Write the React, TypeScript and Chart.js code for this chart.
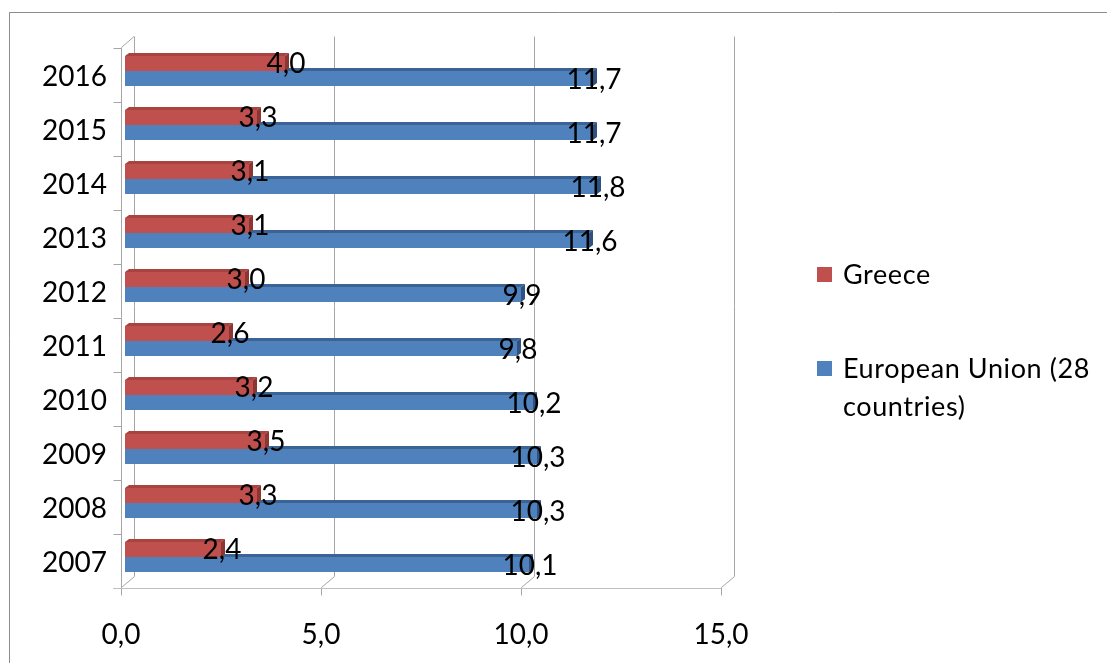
import React, { useEffect, useRef } from 'react';
import { Chart, registerables } from 'chart.js';

Chart.register(...registerables);

// ---- data ----
const categories = ['2007', '2008', '2009', '2010', '2011', '2012', '2013', '2014', '2015', '2016'];
const greeceValues = [2.4, 3.3, 3.5, 3.2, 2.6, 3.0, 3.1, 3.1, 3.3, 4.0];
const euValues = [10.1, 10.3, 10.3, 10.2, 9.8, 9.9, 11.6, 11.8, 11.7, 11.7];
const xTickValues = [0, 5, 10, 15];
const seriesNames = ['Greece', 'European Union (28 countries)'];

// ---- styles ----
const FRONT_COLORS = ['#C0504D', '#4F81BD'];
const TOP_COLORS = ['#A9433F', '#3B6393'];
const SIDE_COLORS = ['#8C3532', '#2F5282'];
const FONT_FAMILY = 'Lato, "Noto Sans", sans-serif';
const FRONT = { dx: -4, dy: 3.5 };
const BACK = { dx: 8.5, dy: -7.5 };
const BAR_DEPTH = { dx: 4, dy: 3 };

const fmt = (v: number) => v.toFixed(1).replace('.', ',');
const snap = (v: number) => Math.round(v) + 0.5;

const framePlugin = {
  id: 'frame3d',
  beforeDatasetsDraw(chart: any) {
    const { ctx, chartArea, scales } = chart;
    const { left, top, bottom } = chartArea;
    const x = scales.x;
    const y = scales.y;
    ctx.save();
    ctx.lineWidth = 1;

    // back wall gridlines + floor diagonals + ticks
    ctx.strokeStyle = '#A6A6A6';
    for (const v of xTickValues) {
      const px = x.getPixelForValue(v);
      ctx.beginPath();
      ctx.moveTo(snap(px + BACK.dx), top + BACK.dy);
      ctx.lineTo(snap(px + BACK.dx), bottom + BACK.dy);
      ctx.lineTo(snap(px + FRONT.dx), bottom + FRONT.dy);
      ctx.lineTo(snap(px + FRONT.dx), bottom + FRONT.dy + 8);
      ctx.stroke();
    }

    // floor front edge
    ctx.strokeStyle = '#BFBFBF';
    const fx0 = x.getPixelForValue(xTickValues[0]) + FRONT.dx;
    const fx1 = x.getPixelForValue(xTickValues[xTickValues.length - 1]) + FRONT.dx;
    ctx.beginPath();
    ctx.moveTo(fx0 - 8, snap(bottom + FRONT.dy));
    ctx.lineTo(fx1, snap(bottom + FRONT.dy));
    ctx.stroke();

    // left wall front edge, top diagonal
    ctx.strokeStyle = '#A6A6A6';
    const lx = snap(left + FRONT.dx);
    ctx.beginPath();
    ctx.moveTo(left + BACK.dx + 0.5, top + BACK.dy);
    ctx.lineTo(lx, top + FRONT.dy);
    ctx.lineTo(lx, bottom + FRONT.dy);
    ctx.stroke();

    // category boundary ticks
    const band = Math.abs(y.getPixelForValue(1) - y.getPixelForValue(0));
    const n = categories.length;
    for (let i = 0; i < n; i++) {
      const c = y.getPixelForValue(i);
      const yb = snap(c - band / 2 + FRONT.dy);
      ctx.beginPath();
      ctx.moveTo(lx - 8, yb);
      ctx.lineTo(lx, yb);
      ctx.stroke();
    }

    // bar top & side faces (blue first, then red)
    for (let d = chart.data.datasets.length - 1; d >= 0; d--) {
      const meta = chart.getDatasetMeta(d);
      meta.data.forEach((el: any) => {
        const p = el.getProps(['x', 'y', 'base', 'height'], true);
        const t = p.y - p.height / 2;
        const b = p.y + p.height / 2;
        ctx.fillStyle = TOP_COLORS[d];
        ctx.beginPath();
        ctx.moveTo(p.base, t);
        ctx.lineTo(p.x, t);
        ctx.lineTo(p.x + BAR_DEPTH.dx, t - BAR_DEPTH.dy);
        ctx.lineTo(p.base + BAR_DEPTH.dx, t - BAR_DEPTH.dy);
        ctx.closePath();
        ctx.fill();
        ctx.fillStyle = SIDE_COLORS[d];
        ctx.beginPath();
        ctx.moveTo(p.x, t);
        ctx.lineTo(p.x + BAR_DEPTH.dx, t - BAR_DEPTH.dy);
        ctx.lineTo(p.x + BAR_DEPTH.dx, b - BAR_DEPTH.dy);
        ctx.lineTo(p.x, b);
        ctx.closePath();
        ctx.fill();
      });
    }
    ctx.restore();
  },
  afterDatasetsDraw(chart: any) {
    const { ctx } = chart;
    ctx.save();
    ctx.font = `28px ${FONT_FAMILY}`;
    ctx.fillStyle = '#000000';
    ctx.textAlign = 'center';
    ctx.textBaseline = 'middle';
    chart.data.datasets.forEach((ds: any, d: number) => {
      const meta = chart.getDatasetMeta(d);
      meta.data.forEach((el: any, i: number) => {
        const p = el.getProps(['x', 'y'], true);
        ctx.fillText(fmt(ds.data[i]), p.x + 1, p.y + 1);
      });
    });
    ctx.restore();
  },
  afterDraw(chart: any) {
    const { ctx } = chart;
    ctx.save();
    // outer border
    ctx.strokeStyle = '#8C8C8C';
    ctx.lineWidth = 1;
    ctx.beginPath();
    ctx.moveTo(9.5, 700);
    ctx.lineTo(9.5, 12.5);
    ctx.lineTo(1107, 12.5);
    ctx.stroke();

    // legend
    ctx.font = `27px ${FONT_FAMILY}`;
    try {
      (ctx as any).letterSpacing = '0.6px';
    } catch (e) {}
    ctx.textAlign = 'left';
    ctx.textBaseline = 'middle';
    const sqX = 817;
    const txtX = 843;
    const maxW = 1107 - txtX - 2;
    const startY = [275, 369];
    chart.data.datasets.forEach((ds: any, d: number) => {
      const words = String(ds.label).split(' ');
      const lines: string[] = [];
      let cur = '';
      for (const w of words) {
        const test = cur ? cur + ' ' + w : w;
        if (ctx.measureText(test).width > maxW && cur) {
          lines.push(cur);
          cur = w;
        } else cur = test;
      }
      if (cur) lines.push(cur);
      const y0 = startY[d];
      ctx.fillStyle = FRONT_COLORS[d];
      ctx.fillRect(sqX, y0 - 8, 15, 15);
      ctx.fillStyle = '#000000';
      lines.forEach((ln, k) => ctx.fillText(ln, txtX, y0 + k * 38));
    });
    ctx.restore();
  },
};

export default function App() {
  const ref = useRef<HTMLCanvasElement | null>(null);
  useEffect(() => {
    if (!ref.current) return;
    const chart = new Chart(ref.current, {
      type: 'bar',
      data: {
        labels: categories,
        datasets: [
          {
            label: seriesNames[0],
            data: greeceValues,
            backgroundColor: FRONT_COLORS[0],
            borderWidth: 0,
            categoryPercentage: 0.56,
            barPercentage: 1,
          },
          {
            label: seriesNames[1],
            data: euValues,
            backgroundColor: FRONT_COLORS[1],
            borderWidth: 0,
            categoryPercentage: 0.56,
            barPercentage: 1,
          },
        ],
      },
      options: {
        indexAxis: 'y',
        animation: false,
        responsive: false,
        maintainAspectRatio: false,
        layout: { padding: { left: 8, right: 382, top: 44, bottom: 0 } },
        plugins: { legend: { display: false }, tooltip: { enabled: false } },
        scales: {
          x: {
            min: 0,
            max: 15,
            afterBuildTicks: (s: any) => {
              s.ticks = xTickValues.map((v) => ({ value: v }));
            },
            afterFit: (s: any) => {
              s.height = 79;
            },
            ticks: {
              labelOffset: -4,
              padding: 34,
              color: '#000000',
              font: { family: FONT_FAMILY, size: 28 },
              callback: (v: any) => fmt(Number(v)),
            },
            grid: { display: false, drawTicks: false },
            border: { display: false },
          },
          y: {
            reverse: true,
            afterFit: (s: any) => {
              s.width = 117;
            },
            ticks: {
              labelOffset: 6,
              padding: 18,
              color: '#000000',
              font: { family: FONT_FAMILY, size: 28 },
            },
            grid: { display: false, drawTicks: false },
            border: { display: false },
          },
        },
      },
      plugins: [framePlugin],
    } as any);
    return () => chart.destroy();
  }, []);
  return (
    <div style={{ position: 'fixed', left: 0, top: 0, width: 1107, height: 663, background: '#ffffff' }}>
      <canvas ref={ref} width={1107} height={663} style={{ display: 'block', width: 1107, height: 663 }} />
    </div>
  );
}
